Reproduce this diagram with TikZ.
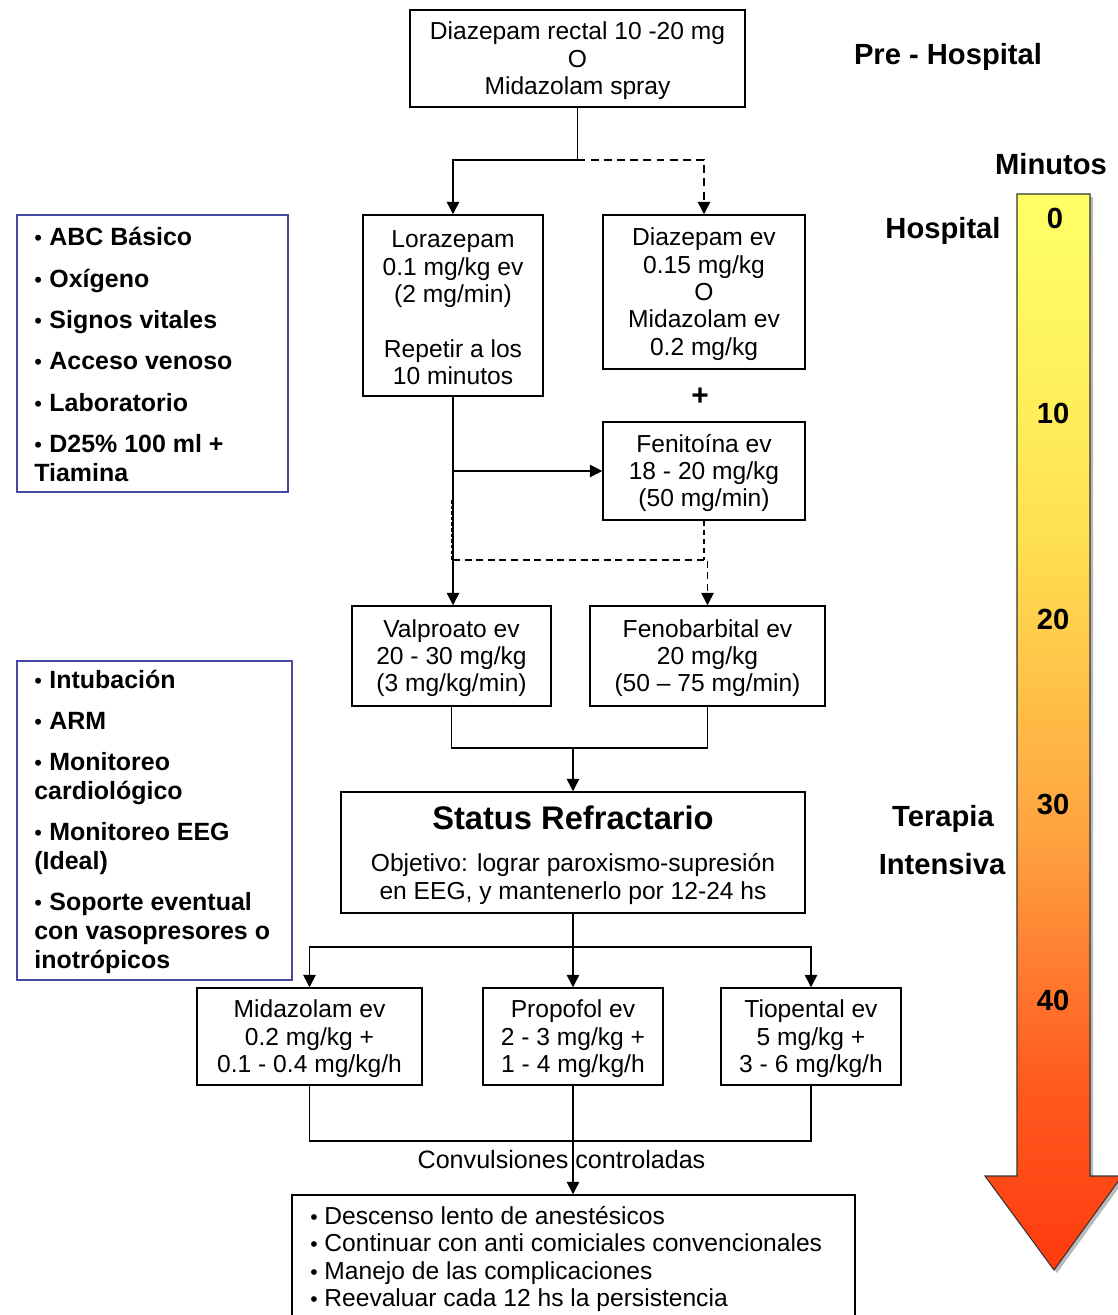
\documentclass[tikz,border=0pt]{standalone}
\usepackage{fontspec}
\setmainfont{Liberation Sans}
\usetikzlibrary{arrows.meta,calc}

% colours
\definecolor{sideblue}{RGB}{72,72,165}
\definecolor{tA}{RGB}{255,255,102}
\definecolor{tB}{RGB}{255,244,94}
\definecolor{tC}{RGB}{255,224,80}
\definecolor{tD}{RGB}{255,162,64}
\definecolor{tE}{RGB}{255,92,34}
\definecolor{tF}{RGB}{255,58,12}

% time-scale arrow: yellow at the top, red-orange at the tip
\pgfdeclareverticalshading{timeshade}{100bp}{%
  color(0bp)=(tF); color(25bp)=(tF); color(34bp)=(tE); color(45bp)=(tD);
  color(59bp)=(tC); color(68bp)=(tB); color(75bp)=(tA); color(100bp)=(tA)}

% fonts
\newcommand\flowfont{\fontsize{14}{15.6}\selectfont}
\newcommand\sidefont{\fontsize{14.2}{16.4}\selectfont\bfseries}
\newcommand\labelfont{\fontsize{16.6}{19}\selectfont\bfseries}
\newcommand\titlefont{\fontsize{18.6}{21}\selectfont\bfseries}
\newcommand\blt{\makebox[8.6pt][l]{\mdseries\fontsize{12.5}{12.5}\selectfont•}}
\newcommand\bltr{\makebox[8pt][l]{\fontsize{12}{12}\selectfont•}}
% taller first line pushes the box text a little lower
\newcommand\ts{\rule{0pt}{12.6pt}}

\begin{document}
\begin{tikzpicture}[x=0.02cm,y=-0.02cm,
  flow/.style={draw, line width=0.85pt, rectangle, inner sep=0pt, align=center,
               font=\flowfont},
  side/.style={draw=sideblue, line width=0.8pt, rectangle, inner sep=0pt},
  sz/.style 2 args={minimum width=#1*0.02cm, minimum height=#2*0.02cm},
  conn/.style={line width=0.85pt},
  arr/.style={conn, -{Triangle[length=7pt,width=7pt]}},
  dashconn/.style={conn, dash pattern=on 4.5pt off 3pt},
  dasharr/.style={dashconn, -{Triangle[length=7pt,width=7pt]}},
  lab/.style={font=\labelfont, inner sep=0pt},
  sidetext/.style={align=left, font=\sidefont, anchor=west, inner sep=0pt},
]
\useasboundingbox (0,0) rectangle (1118,1315);
\clip (0,0) rectangle (1118,1315);

% ---------- time scale ----------
\fill[gray!55] (1020,197) -- (1093,197) -- (1093,1179) -- (1125,1179) -- (1057,1273)
   -- (988,1179) -- (1020,1179) -- cycle;
\path[shading=timeshade, draw=black!80, line width=0.6pt]
  (1017,194) -- (1090,194) -- (1090,1176) -- (1122,1176) -- (1054,1270)
  -- (985,1176) -- (1017,1176) -- cycle;
\node[lab] (m0)  at (1055,218)  {0};
\node[lab] (m10) at (1053,413)  {10};
\node[lab] (m20) at (1053,619)  {20};
\node[lab] (m30) at (1053,804)  {30};
\node[lab] (m40) at (1053,1000) {40};

\node[lab] (prehosp) at (948,57)  {Pre - Hospital};
\node[lab] (minutos) at (1051,164) {Minutos};
\node[lab] (hosp)    at (943,231) {Hospital};
\node[lab] (terapia) at (943,819) {Terapia};
\node[lab] (intens)  at (942,864) {Intensiva};

% ---------- side boxes ----------
\node[side, sz={271}{277}] (side1) at (152.5,353.5) {};
\node[sidetext] (side1txt) at (34,354.5)
  {\blt ABC Básico\\[7.1pt]\blt Oxígeno\\[7.1pt]\blt Signos vitales\\[7.1pt]%
   \blt Acceso venoso\\[7.1pt]\blt Laboratorio\\[7.1pt]\blt D25\% 100 ml +\\Tiamina};

\node[side, sz={275}{319}] (side2) at (154.5,820.5) {};
\node[sidetext] (side2txt) at (34,822)
  {\blt Intubación\\[7pt]\blt ARM\\[7pt]\blt Monitoreo\\cardiológico\\[7pt]%
   \blt Monitoreo EEG\\(Ideal)\\[7pt]\blt Soporte eventual\\con vasopresores o\\inotrópicos};

% ---------- flow boxes ----------
\node[flow, sz={335}{97}] (pre) at (577.5,58.5)
  {\ts Diazepam rectal 10 -20 mg\\O\\Midazolam spray};
\node[flow, sz={180}{181}] (lora) at (453,305.5)
  {\ts Lorazepam\\0.1 mg/kg ev\\(2 mg/min)\\[15.6pt]Repetir a los\\10 minutos};
\node[flow, sz={202}{154}] (diaz) at (704,292)
  {\ts Diazepam ev\\0.15 mg/kg\\O\\Midazolam ev\\0.2 mg/kg};
\node[font=\fontsize{17}{17}\selectfont\bfseries, inner sep=0pt] (plus) at (700,397) {+};
\node[flow, sz={202}{98}] (feni) at (704,471)
  {\ts Fenitoína ev\\18 - 20 mg/kg\\(50 mg/min)};
\node[flow, sz={199}{100}] (valp) at (451.5,656)
  {\ts Valproato ev\\20 - 30 mg/kg\\(3 mg/kg/min)};
\node[flow, sz={235}{100}] (feno) at (707.5,656)
  {\ts Fenobarbital ev\\20 mg/kg\\(50 – 75 mg/min)};

\node[flow, sz={464}{121}] (status) at (573,852.5) {};
\node[font=\titlefont, inner sep=0pt] (sttitle) at (573,818) {Status Refractario};
\node[font=\flowfont, align=center, inner sep=0pt] (sttext) at (573,879)
  {Objetivo: lograr paroxismo-supresión\\en EEG, y mantenerlo por 12-24 hs};

\node[flow, sz={225}{97}] (mida) at (309.5,1036.5)
  {\ts Midazolam ev\\0.2 mg/kg +\\0.1 - 0.4 mg/kg/h};
\node[flow, sz={180}{97}] (propo) at (573,1036.5)
  {\ts Propofol ev\\2 - 3 mg/kg +\\1 - 4 mg/kg/h};
\node[flow, sz={180}{97}] (tiop) at (811,1036.5)
  {\ts Tiopental ev\\5 mg/kg +\\3 - 6 mg/kg/h};

\node[flow, sz={563}{145}] (final) at (573.5,1267.5) {};
\node[font=\flowfont, align=left, anchor=west, inner sep=0pt] (finaltxt) at (310,1259)
  {\bltr Descenso lento de anestésicos\\\bltr Continuar con anti comiciales convencionales\\%
   \bltr Manejo de las complicaciones\\\bltr Reevaluar cada 12 hs la persistencia};

% ---------- connectors ----------
\coordinate (j1) at (577.5,160);
\draw[conn] (pre.south) -- (j1);
\draw[arr] (j1) -| (lora.north);
\draw[dasharr] (j1) -| (diaz.north);

\draw[arr] (lora.south) -- (lora.south |- valp.north);
\coordinate (j2) at (453,471);
\draw[arr] (j2) -- (feni.west);

\coordinate (j3) at (453,560);
\coordinate (j4) at (452,500);
\draw[conn, dash pattern=on 2pt off 1.2pt] (j4) -- (j4 |- j3);
\draw[conn, dash pattern=on 3pt off 2.2pt] (feni.south) -- (feni.south |- j3);
\draw[conn, dash pattern=on 4pt off 2.6pt, -{Triangle[length=7pt,width=7pt]}] (j3) -| (feno.north);

\draw[conn] (valp.south) -- ++(0,41) -| (feno.south);
\coordinate (j5) at (573,747);
\draw[arr] (j5) -- (status.north);

\coordinate (j6) at (573,947);
\draw[conn] (status.south) -- (j6);
\draw[arr] (j6) -| (mida.north);
\draw[arr] (j6) -| (tiop.north);
\draw[arr] (j6) -- (propo.north);

\draw[conn] (mida.south) -- ++(0,55) -| (tiop.south);
\draw[arr] (propo.south) -- (propo.south |- final.north);
\node[font=\fontsize{14.3}{15.6}\selectfont, inner sep=0pt] (ctrl) at (561.5,1160)
  {Convulsiones\hspace{4pt}controladas};
\end{tikzpicture}
\end{document}
